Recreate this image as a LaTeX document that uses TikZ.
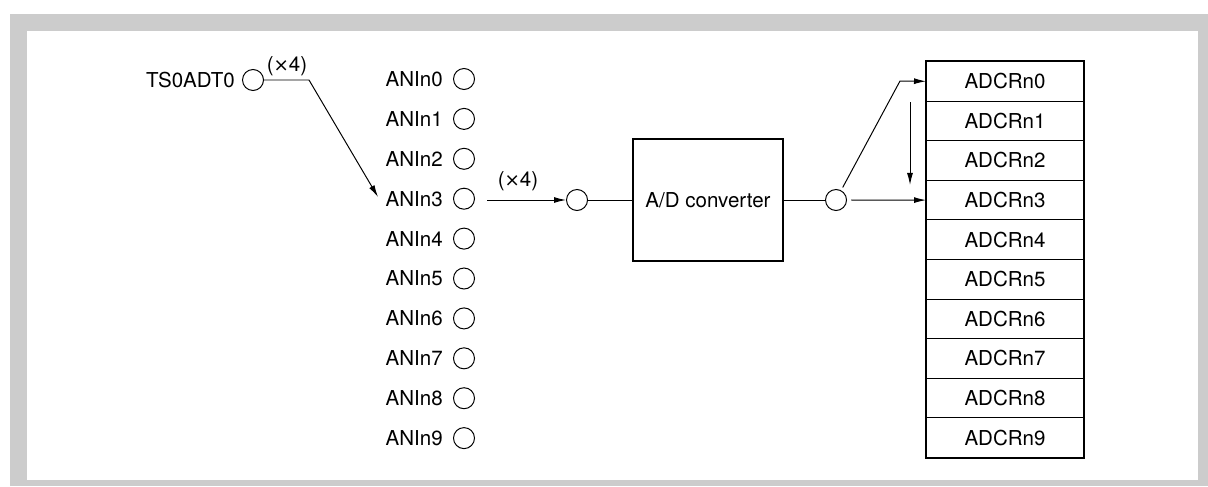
\documentclass[tikz,border=0pt]{standalone}
\usepackage{fontspec}
\setmainfont{TeX Gyre Heros}
\newfontfamily\symfont{DejaVu Sans}
\usetikzlibrary{arrows.meta}
\definecolor{framegray}{HTML}{CCCCCC}
\newcommand{\mytimes}{{\symfont\fontsize{13pt}{15pt}\selectfont ×}}
\begin{document}
\begin{tikzpicture}[x=0.025cm,y=-0.025cm,
  every node/.style={font=\fontsize{14.6pt}{17pt}\selectfont},
  wire/.style={line width=0.7pt},
  arr/.style={line width=0.7pt,-{Latex[length=0.3cm,width=0.15cm]}},
  pin/.style={circle,draw,line width=0.7pt,minimum size=0.525cm,inner sep=0pt},
  lbl/.style={inner sep=0pt,anchor=east},
  reg/.style={draw,line width=0.7pt,minimum width=3.925cm,minimum height=0.99cm,inner sep=0pt,anchor=north west},
  conv/.style={draw,line width=1.4pt,minimum width=3.75cm,minimum height=3.05cm,inner sep=0pt}]
\fill[white] (0,0) rectangle (1208,486);
\fill[framegray] (10,14) rectangle (1208,486);
\fill[white] (27,31) rectangle (1198,480);
\useasboundingbox (0,0) rectangle (1208,486);

% TS0ADT0 input
\node[pin] (ts) at (253,80) {};
\node[lbl] (tsl) at (235,80) {TS0ADT0};
\node[inner sep=0pt] (tsx) at (287,66) {(\mytimes4)};

% ANIn inputs
\foreach \i in {0,...,9}{
  \pgfmathsetmacro\yy{79+39.9*\i}
  \node[pin] (an\i) at (464,\yy) {};
  \node[lbl] (anl\i) at (443,\yy) {ANIn\i};
}

% multiplexer point, converter, demultiplexer point
\node[pin] (mux) at (577,200) {};
\node[conv] (adc) at (708,200) {A/D converter};
\node[pin] (dmx) at (836,200) {};
\node[inner sep=0pt] (muxx) at (518,181) {(\mytimes4)};

% registers
\foreach \i in {0,...,9}{
  \node[reg] (r\i) at (926,{61+39.6*\i}) {ADCRn\i};
}
\draw[line width=1.4pt] (r0.north west) rectangle (r9.south east);

% connectors
\coordinate (tsbend) at (309,80);
\coordinate (tstip) at (378,197);
\draw[arr] (ts.east) -- (tsbend) -- (tstip);

\coordinate (an3out) at (487,200);
\draw[arr] (an3out) -- (mux.west);
\draw[wire] (mux.east) -- (adc.west);
\draw[wire] (adc.east) -- (dmx.west);

\coordinate (dmxbend) at (900,81);
\draw[arr,shorten <=0.08cm] (dmx.62) -- (dmxbend) -- (r0.west);
\draw[arr,shorten <=0.1cm] (dmx.east) -- (r3.west);

\coordinate (shtop) at (910,102);
\coordinate (shbot) at (910,185);
\draw[arr] (shtop) -- (shbot);
\end{tikzpicture}
\end{document}
